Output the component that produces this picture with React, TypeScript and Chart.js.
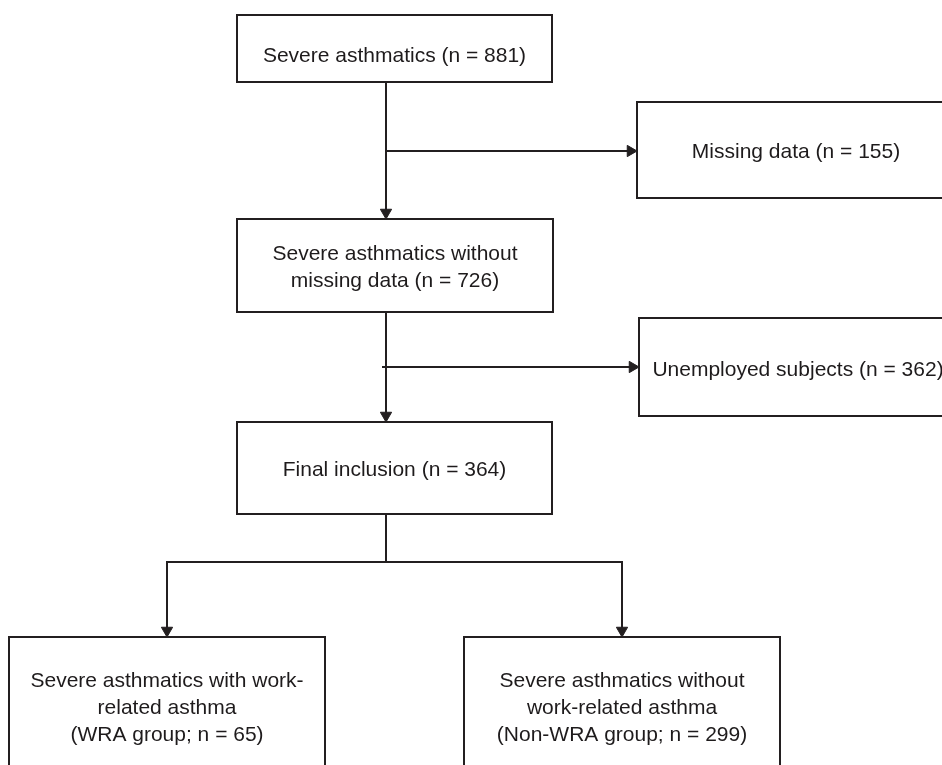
import React, { useEffect, useRef } from "react";
import { Chart, registerables } from "chart.js";

Chart.register(...registerables);

// ---- data: counts and box texts ----
const counts = [881, 155, 726, 362, 364, 65, 299];
const boxTexts: string[][] = [
  [`Severe asthmatics (n = ${counts[0]})`],
  [`Missing data (n = ${counts[1]})`],
  ["Severe asthmatics without", `missing data (n = ${counts[2]})`],
  [`Unemployed subjects (n = ${counts[3]})`],
  [`Final inclusion (n = ${counts[4]})`],
  ["Severe asthmatics with work-", "related asthma", `(WRA group; n = ${counts[5]})`],
  ["Severe asthmatics without", "work-related asthma", `(Non-WRA group; n = ${counts[6]})`],
];

// ---- layout of the flow diagram (figure coordinates) ----
const boxLeft = [237, 637, 237, 639, 237, 9, 464];
const boxRight = [552, 955, 553, 957, 552, 325, 780];
const boxTop = [15, 102, 219, 318, 422, 637, 637];
const boxBottom = [82, 198, 312, 416, 514, 790, 790];
const textBaseline = [62, 158, 260, 376, 476, 687, 687];
const lineGap = 27;

type Conn = { pts: [number, number][]; arrow: "down" | "right" | null };
const connectors: Conn[] = [
  { pts: [[386, 82], [386, 219]], arrow: "down" },
  { pts: [[386, 151], [637, 151]], arrow: "right" },
  { pts: [[386, 312], [386, 422]], arrow: "down" },
  { pts: [[383, 367], [639, 367]], arrow: "right" },
  { pts: [[386, 514], [386, 562]], arrow: null },
  { pts: [[167, 562], [622, 562]], arrow: null },
  { pts: [[167, 562], [167, 637]], arrow: "down" },
  { pts: [[622, 562], [622, 637]], arrow: "down" },
];

const W = 942;
const H = 765;
const INK = "#231f20";
const ARROW_R = 6.5;

export default function App() {
  const ref = useRef<HTMLCanvasElement | null>(null);

  useEffect(() => {
    if (!ref.current) return;
    const datasets: any[] = [];

    boxLeft.forEach((x0, i) => {
      const x1 = boxRight[i];
      const y0 = boxTop[i];
      const y1 = boxBottom[i];
      datasets.push({
        data: [
          { x: x0, y: y0 },
          { x: x1, y: y0 },
          { x: x1, y: y1 },
          { x: x0, y: y1 },
          { x: x0, y: y0 },
        ],
        showLine: true,
        borderColor: INK,
        borderWidth: 2,
        borderCapStyle: "square",
        borderJoinStyle: "miter",
        pointRadius: 0,
        tension: 0,
        fill: false,
        clip: false,
      });
    });

    connectors.forEach((c) => {
      const pts = c.pts.map(([x, y]) => ({ x, y }));
      const radii = pts.map(() => 0);
      const rot = pts.map(() => 0);
      if (c.arrow) {
        const last = pts[pts.length - 1];
        if (c.arrow === "down") {
          last.y -= ARROW_R;
          rot[rot.length - 1] = 180;
        } else {
          last.x -= ARROW_R;
          rot[rot.length - 1] = 90;
        }
        radii[radii.length - 1] = ARROW_R;
      }
      datasets.push({
        data: pts,
        showLine: true,
        borderColor: INK,
        borderWidth: 2,
        borderCapStyle: "square",
        borderJoinStyle: "miter",
        pointStyle: "triangle",
        pointRadius: radii,
        pointRotation: rot,
        pointBackgroundColor: INK,
        pointBorderColor: INK,
        pointBorderWidth: 1,
        tension: 0,
        fill: false,
        clip: false,
      });
    });

    const textPlugin = {
      id: "boxText",
      afterDatasetsDraw(chart: any) {
        const { ctx } = chart;
        const xs = chart.scales.x;
        const ys = chart.scales.y;
        ctx.save();
        ctx.fillStyle = "#1e1b1c";
        ctx.font = '21px "Liberation Sans", Arial, Helvetica, sans-serif';
        ctx.textAlign = "center";
        ctx.textBaseline = "alphabetic";
        boxTexts.forEach((lines, i) => {
          const cx = xs.getPixelForValue((boxLeft[i] + boxRight[i]) / 2);
          lines.forEach((t, j) => {
            const y = ys.getPixelForValue(textBaseline[i] + j * lineGap);
            ctx.fillText(t, cx, y);
          });
        });
        ctx.restore();
      },
    };

    const chart = new Chart(ref.current, {
      type: "scatter",
      data: { datasets },
      options: {
        animation: false,
        responsive: false,
        devicePixelRatio: 1,
        events: [],
        layout: { padding: 0, autoPadding: false },
        plugins: { legend: { display: false }, tooltip: { enabled: false } },
        scales: {
          x: { type: "linear", min: 0, max: W, display: false },
          y: { type: "linear", min: 0, max: H, reverse: true, display: false },
        },
      },
      plugins: [textPlugin],
    });
    return () => chart.destroy();
  }, []);

  return (
    <div
      style={{
        position: "fixed",
        left: 0,
        top: 0,
        width: W,
        height: H,
        background: "#fff",
      }}
    >
      <canvas ref={ref} width={W} height={H} style={{ width: W, height: H }} />
    </div>
  );
}
